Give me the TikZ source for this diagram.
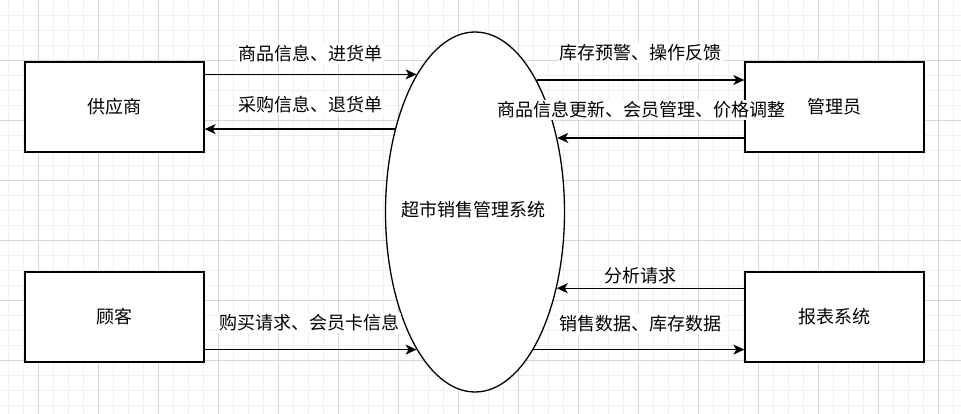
\documentclass[tikz,border=0pt]{standalone}
\usepackage{fontspec}
\setmainfont{Noto Sans CJK SC}
\usetikzlibrary{shapes.geometric,arrows.meta}
\begin{document}
\begin{tikzpicture}[
    x=1pt,
    y=-1pt,
    font=\fontsize{18}{22}\selectfont,
    entity/.style={
        draw,
        line width=1.3pt,
        fill=white,
        minimum width=179pt,
        minimum height=90pt,
        inner sep=0pt
    },
    process/.style={
        draw,
        ellipse,
        line width=1.3pt,
        fill=white,
        minimum width=179pt,
        minimum height=360pt,
        inner sep=0pt
    },
    flow/.style={
        -{Stealth[length=11pt,width=10pt,inset=3pt]},
        line width=1.3pt
    },
    flow-label/.style={
        fill=white,
        inner sep=1.5pt
    },
    grid-minor/.style={black!6, line width=0.6pt},
    grid-major/.style={black!16, line width=0.8pt}
]
    \fill[white] (0,0) rectangle (961,414);
    \useasboundingbox (0,0) rectangle (961,414);

    % background grid
    \foreach \gx in {8,23,...,953}
        \draw[grid-minor] (\gx,0) -- (\gx,414);
    \foreach \gy in {15,30,...,405}
        \draw[grid-minor] (0,\gy) -- (961,\gy);
    \foreach \gx in {38,98,...,938}
        \draw[grid-major] (\gx,0) -- (\gx,414);
    \foreach \gy in {60,120,...,360}
        \draw[grid-major] (0,\gy) -- (961,\gy);

    \node[entity] (gongyingshang) at (114.5,107) {供应商};
    \node[entity] (guke) at (114.5,317) {顾客};
    \node[entity] (guanliyuan) at (834.5,107) {管理员};
    \node[entity] (baobiao) at (834.5,317) {报表系统};

    \node[process] (xitong) at (475,212) {};
    \node (xitong-text) at (473,210) {超市销售管理系统};

    \draw[flow] (gongyingshang.east |- xitong.113.3) -- (xitong.113.3);
    \draw[flow] (xitong.134.2) -- (gongyingshang.east |- xitong.134.2);
    \draw[flow] (xitong.65.9) -- (guanliyuan.west |- xitong.65.9);
    \draw[flow] (guanliyuan.west |- xitong.42.2) -- (xitong.42.2);
    \draw[flow] (baobiao.west |- xitong.317.35) -- (xitong.317.35);
    \draw[flow] (xitong.293.7) -- (baobiao.west |- xitong.293.7);
    \draw[flow] (guke.east |- xitong.247.05) -- (xitong.247.05);

    \node[flow-label] (jinhuo) at (310,54) {商品信息、进货单};
    \node[flow-label] (caigou) at (310,105) {采购信息、退货单};
    \node[flow-label] (yujing) at (640,53) {库存预警、操作反馈};
    \node[flow-label] (gengxin) at (641,110) {商品信息更新、会员管理、价格调整};
    \node[flow-label] (fenxi) at (640,276) {分析请求};
    \node[flow-label] (shuju) at (640,324) {销售数据、库存数据};
    \node[flow-label] (goumai) at (309,323) {购买请求、会员卡信息};
\end{tikzpicture}
\end{document}
